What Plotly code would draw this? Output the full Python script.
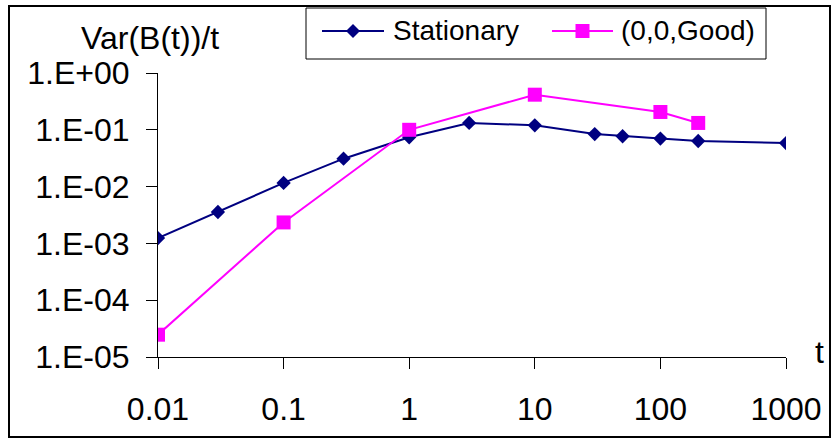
import plotly.graph_objects as go
import numpy as np

# Time points and Var(B(t))/t values for each series
t_stationary = [0.01, 0.03, 0.1, 0.3, 1, 3, 10, 30, 50, 100, 200, 1000]
var_stationary = [1.24e-3, 3.57e-3, 1.16e-2, 3.1e-2, 7.4e-2, 1.32e-1, 1.2e-1,
                  8.4e-2, 7.7e-2, 7.0e-2, 6.35e-2, 5.85e-2]

t_good = [0.01, 0.1, 1, 10, 100, 200]
var_good = [2.47e-5, 2.34e-3, 1.0e-1, 4.15e-1, 2.06e-1, 1.32e-1]

x_ticks = [0.01, 0.1, 1, 10, 100, 1000]
x_ticktext = ["0.01", "0.1", "1", "10", "100", "1000"]
y_ticks = [1e-5, 1e-4, 1e-3, 1e-2, 1e-1, 1]
y_ticktext = ["1.E-05", "1.E-04", "1.E-03", "1.E-02", "1.E-01", "1.E+00"]
grid_decades = [1e-4, 1e-3, 1e-2, 1e-1]

FONT = "Liberation Sans, Arial, sans-serif"
NAVY = "#000080"
MAGENTA = "#FF00FF"

# page geometry (pixels) used to place decorations around the plot area
W, H = 833, 439
ML, MR, MT, MB = 158, 47, 73, 82
PW, PH = W - ML - MR, H - MT - MB


def px(xp):
    return (xp - ML) / PW


def py(yp):
    return (H - MB - yp) / PH


fig = go.Figure()
fig.add_trace(go.Scatter(
    x=t_stationary, y=var_stationary, name="Stationary",
    mode="lines+markers",
    line=dict(color=NAVY, width=2),
    marker=dict(symbol="diamond", size=11, color=NAVY),
))
fig.add_trace(go.Scatter(
    x=t_good, y=var_good, name="(0,0,Good)",
    mode="lines+markers",
    line=dict(color=MAGENTA, width=2),
    marker=dict(symbol="square", size=14, color=MAGENTA),
))

# horizontal gridlines at interior decades (none at the top)
for g in grid_decades:
    fig.add_shape(type="line", xref="paper", yref="y", x0=0, x1=1,
                  y0=np.log10(g), y1=np.log10(g),
                  line=dict(color="#3a3a3a", width=1), layer="below")

# outer frame
fig.add_shape(type="rect", xref="paper", yref="paper",
              x0=px(9), x1=px(830), y0=py(437), y1=py(6),
              line=dict(color="black", width=2))

# legend box with long sample lines
fig.add_shape(type="rect", xref="paper", yref="paper",
              x0=px(306), x1=px(766), y0=py(59), y1=py(8),
              line=dict(color="black", width=1), fillcolor="white")
LEG_Y = 31
legend_items = [
    ("Stationary", NAVY, "diamond", 322, 384, 391),
    ("(0,0,Good)", MAGENTA, "square", 552, 613, 619),
]
for name, color, sym, lx0, lx1, tx in legend_items:
    fig.add_shape(type="line", xref="paper", yref="paper",
                  x0=px(lx0), x1=px(lx1), y0=py(LEG_Y), y1=py(LEG_Y),
                  line=dict(color=color, width=2))
    cx = (lx0 + lx1) / 2
    if sym == "diamond":
        r = 7
        path = (f"M {px(cx - r)},{py(LEG_Y)} L {px(cx)},{py(LEG_Y - r)} "
                f"L {px(cx + r)},{py(LEG_Y)} L {px(cx)},{py(LEG_Y + r)} Z")
        fig.add_shape(type="path", xref="paper", yref="paper", path=path,
                      fillcolor=color, line=dict(color=color, width=0))
    else:
        r = 7
        fig.add_shape(type="rect", xref="paper", yref="paper",
                      x0=px(cx - r), x1=px(cx + r),
                      y0=py(LEG_Y + r), y1=py(LEG_Y - r),
                      fillcolor=color, line=dict(color=color, width=0))
    fig.add_annotation(text=name, xref="paper", yref="paper",
                       x=px(tx), y=py(LEG_Y), xanchor="left", yanchor="middle",
                       showarrow=False,
                       font=dict(family=FONT, size=28, color="black"))

fig.add_annotation(text="Var(B(t))/t", xref="paper", yref="paper",
                   x=px(150), y=py(38),
                   xanchor="center", yanchor="middle", showarrow=False,
                   font=dict(family=FONT, size=32, color="black"))
fig.add_annotation(text="t", xref="paper", yref="paper",
                   x=px(819), y=py(352),
                   xanchor="center", yanchor="middle", showarrow=False,
                   font=dict(family=FONT, size=32, color="black"))

fig.update_layout(
    width=W, height=H,
    margin=dict(l=ML, r=MR, t=MT, b=MB, autoexpand=False),
    paper_bgcolor="white", plot_bgcolor="white",
    font=dict(family=FONT, color="black"),
    showlegend=False,
    xaxis=dict(type="log", range=[-2, 3], tickvals=x_ticks, ticktext=x_ticktext,
               showgrid=False, zeroline=False, showline=True, automargin=False,
               linecolor="black", linewidth=1,
               ticks="outside", ticklen=11, tickcolor="black", tickwidth=1,
               ticklabelstandoff=13,
               tickfont=dict(family=FONT, size=32, color="black")),
    yaxis=dict(type="log", range=[-5, 0], tickvals=y_ticks, ticktext=y_ticktext,
               showgrid=False, zeroline=False, showline=True, automargin=False,
               linecolor="black", linewidth=1,
               ticks="outside", ticklen=11, tickcolor="black", tickwidth=1,
               ticklabelstandoff=10,
               tickfont=dict(family=FONT, size=32, color="black")),
)

fig.write_html("out.html")
